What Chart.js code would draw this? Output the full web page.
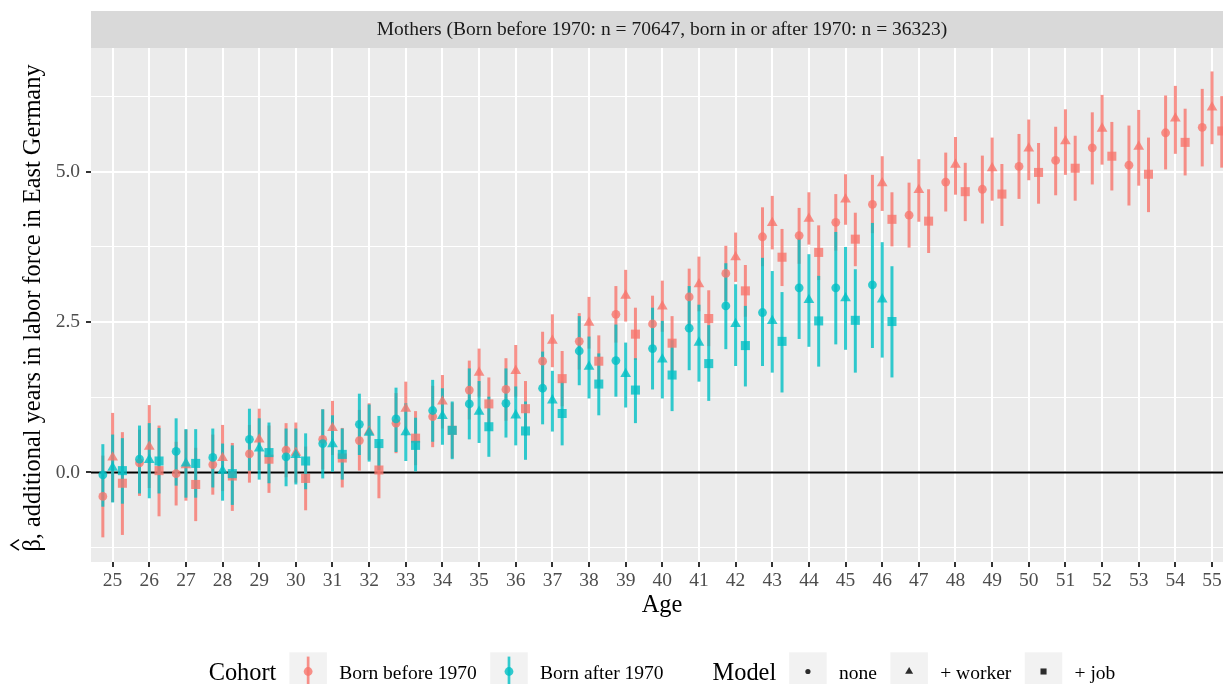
<!DOCTYPE html>
<html>
<head>
<meta charset="utf-8">
<script src="https://cdn.jsdelivr.net/npm/chart.js@4.4.1/dist/chart.umd.min.js"></script>
<style>
  html, body { margin: 0; padding: 0; background: #fff; overflow: hidden; }
  canvas { display: block; }
</style>
</head>
<body>
<canvas id="chart" width="1223" height="684"></canvas>
<script>
// ages on the x axis (the after-1970 cohort stops at 46)
var ages = [25, 26, 27, 28, 29, 30, 31, 32, 33, 34, 35, 36, 37, 38, 39, 40,
            41, 42, 43, 44, 45, 46, 47, 48, 49, 50, 51, 52, 53, 54, 55];
var agesAfter = [25, 26, 27, 28, 29, 30, 31, 32, 33, 34, 35, 36, 37, 38, 39, 40,
                 41, 42, 43, 44, 45, 46];

var yMajorTicks = [0, 2.5, 5];
var yTickLabels = ['0.0', '2.5', '5.0'];
var yMinorTicks = [-1.25, 1.25, 3.75, 6.25];

var cohortLabels = ['Born before 1970', 'Born after 1970'];
var modelLabels = ['none', '+ worker', '+ job'];

// Born before 1970
var beforeNoneEst = [-0.40, 0.16, -0.02, 0.13, 0.31, 0.37, 0.55, 0.53, 0.82, 0.93, 1.37, 1.38, 1.85, 2.18, 2.63, 2.47, 2.92, 3.31, 3.92, 3.94, 4.16, 4.46, 4.28, 4.83, 4.71, 5.09, 5.19, 5.40, 5.11, 5.65, 5.74];
var beforeNoneLo = [-1.08, -0.39, -0.55, -0.37, -0.17, -0.08, 0.05, 0.03, 0.32, 0.42, 0.88, 0.86, 1.36, 1.71, 2.16, 2.00, 2.44, 2.85, 3.43, 3.47, 3.69, 3.98, 3.74, 4.34, 4.14, 4.55, 4.61, 4.79, 4.44, 5.04, 5.09];
var beforeNoneHi = [0.28, 0.71, 0.51, 0.63, 0.79, 0.82, 1.05, 1.04, 1.32, 1.44, 1.86, 1.90, 2.34, 2.65, 3.10, 2.94, 3.39, 3.77, 4.41, 4.40, 4.63, 4.95, 4.82, 5.32, 5.27, 5.63, 5.75, 5.99, 5.77, 6.27, 6.38];

var beforeWorkerEst = [0.25, 0.43, 0.12, 0.24, 0.55, 0.33, 0.74, 0.68, 1.06, 1.18, 1.66, 1.69, 2.19, 2.49, 2.94, 2.76, 3.13, 3.58, 4.15, 4.22, 4.54, 4.81, 4.70, 5.12, 5.06, 5.39, 5.51, 5.72, 5.42, 5.89, 6.07];
var beforeWorkerLo = [-0.49, -0.26, -0.47, -0.31, 0.04, -0.17, 0.29, 0.21, 0.61, 0.73, 1.26, 1.26, 1.75, 2.06, 2.51, 2.34, 2.68, 3.17, 3.71, 3.79, 4.12, 4.35, 4.17, 4.62, 4.52, 4.86, 4.95, 5.12, 4.77, 5.30, 5.46];
var beforeWorkerHi = [0.99, 1.12, 0.71, 0.79, 1.06, 0.83, 1.19, 1.15, 1.51, 1.62, 2.06, 2.12, 2.63, 2.92, 3.37, 3.19, 3.59, 3.99, 4.60, 4.66, 4.96, 5.26, 5.21, 5.58, 5.57, 5.87, 6.04, 6.28, 6.03, 6.43, 6.67];

var beforeJobEst = [-0.18, 0.03, -0.20, -0.06, 0.22, -0.10, 0.24, 0.04, 0.57, 0.70, 1.14, 1.06, 1.56, 1.85, 2.30, 2.15, 2.56, 3.02, 3.58, 3.66, 3.88, 4.21, 4.18, 4.67, 4.63, 4.99, 5.06, 5.26, 4.96, 5.49, 5.68];
var beforeJobLo = [-1.04, -0.73, -0.81, -0.64, -0.34, -0.63, -0.25, -0.43, 0.12, 0.24, 0.70, 0.61, 1.10, 1.42, 1.87, 1.69, 2.10, 2.59, 3.10, 3.20, 3.43, 3.76, 3.65, 4.18, 4.10, 4.47, 4.52, 4.69, 4.33, 4.94, 5.07];
var beforeJobHi = [0.67, 0.78, 0.41, 0.49, 0.78, 0.43, 0.74, 0.51, 1.02, 1.16, 1.58, 1.52, 2.02, 2.28, 2.74, 2.60, 3.03, 3.45, 4.05, 4.11, 4.32, 4.66, 4.71, 5.15, 5.13, 5.48, 5.60, 5.83, 5.57, 6.05, 6.26];

// Born in or after 1970
var afterNoneEst = [-0.04, 0.22, 0.35, 0.25, 0.55, 0.26, 0.48, 0.80, 0.89, 1.03, 1.14, 1.15, 1.40, 2.02, 1.86, 2.06, 2.40, 2.77, 2.66, 3.07, 3.07, 3.12];
var afterNoneLo = [-0.57, -0.35, -0.22, -0.25, 0.03, -0.23, -0.10, 0.29, 0.34, 0.51, 0.55, 0.58, 0.80, 1.45, 1.26, 1.38, 1.70, 2.05, 1.77, 2.22, 2.13, 2.07];
var afterNoneHi = [0.47, 0.78, 0.90, 0.73, 1.06, 0.73, 1.05, 1.31, 1.41, 1.54, 1.73, 1.73, 2.01, 2.60, 2.46, 2.74, 3.10, 3.48, 3.57, 3.89, 4.00, 4.15];

var afterWorkerEst = [0.08, 0.21, 0.15, 0.03, 0.40, 0.29, 0.47, 0.66, 0.67, 0.94, 1.01, 0.95, 1.20, 1.76, 1.64, 1.88, 2.16, 2.47, 2.52, 2.87, 2.90, 2.88];
var afterWorkerLo = [-0.50, -0.43, -0.42, -0.47, -0.12, -0.20, 0.01, 0.18, 0.19, 0.46, 0.49, 0.45, 0.68, 1.23, 1.08, 1.23, 1.51, 1.77, 1.66, 2.09, 2.04, 1.91];
var afterWorkerHi = [0.63, 0.82, 0.72, 0.48, 0.90, 0.73, 0.95, 1.13, 1.15, 1.40, 1.52, 1.43, 1.69, 2.26, 2.16, 2.52, 2.79, 3.13, 3.35, 3.63, 3.75, 3.83];

var afterJobEst = [0.03, 0.19, 0.15, -0.02, 0.33, 0.19, 0.30, 0.48, 0.45, 0.70, 0.76, 0.69, 0.98, 1.47, 1.37, 1.62, 1.81, 2.11, 2.18, 2.52, 2.53, 2.51];
var afterJobLo = [-0.52, -0.35, -0.42, -0.54, -0.18, -0.28, -0.12, 0.04, 0.00, 0.22, 0.26, 0.21, 0.45, 0.95, 0.82, 1.02, 1.19, 1.43, 1.33, 1.76, 1.66, 1.58];
var afterJobHi = [0.57, 0.74, 0.72, 0.45, 0.83, 0.65, 0.73, 0.94, 0.91, 1.18, 1.26, 1.18, 1.51, 1.98, 1.90, 2.20, 2.45, 2.77, 3.00, 3.27, 3.38, 3.43];

var FONT = '"Liberation Serif", "DejaVu Serif", serif';
var SMALL = 19.5, BIG = 24.4;
var RED = 'rgba(248, 118, 109, 0.8)';
var TEAL = 'rgba(0, 191, 196, 0.8)';
var KEY_INK = 'rgba(0, 0, 0, 0.82)';
var dodge = [-0.2667, 0, 0.2667];           // position_dodge offsets per model
var shapes = ['circle', 'triangle', 'rect'];
var radii = [4.4, 6.2, 6.4];
var CENTER_X = 662;                         // panel centre (panel runs past the right edge)

var cohorts = [
    { xs: ages, color: RED, series: [
        [beforeNoneEst, beforeNoneLo, beforeNoneHi],
        [beforeWorkerEst, beforeWorkerLo, beforeWorkerHi],
        [beforeJobEst, beforeJobLo, beforeJobHi]] },
    { xs: agesAfter, color: TEAL, series: [
        [afterNoneEst, afterNoneLo, afterNoneHi],
        [afterWorkerEst, afterWorkerLo, afterWorkerHi],
        [afterJobEst, afterJobLo, afterJobHi]] }
];

var datasets = [];
cohorts.forEach(function (c, ci) {
    c.series.forEach(function (s, mi) {
        var off = dodge[mi];
        // confidence interval as a thin floating bar
        datasets.push({
            type: 'bar',
            data: s[1].map(function (lo, i) { return { x: c.xs[i] + off, y: [lo, s[2][i]] }; }),
            backgroundColor: c.color,
            borderWidth: 0,
            grouped: false,
            maxBarThickness: 3,
            order: 40 - ci * 10
        });
        datasets.push({
            type: 'scatter',
            data: s[0].map(function (v, i) { return { x: c.xs[i] + off, y: v }; }),
            pointStyle: shapes[mi],
            pointRadius: radii[mi],
            pointHoverRadius: radii[mi],
            backgroundColor: c.color,
            borderWidth: 0,
            showLine: false,
            order: 20 - ci * 10
        });
    });
});

function noPadding(s) {
    s.paddingLeft = 0; s.paddingRight = 0; s.paddingTop = 0; s.paddingBottom = 0;
}

var decor = {
    id: 'decor',
    beforeDraw: function (chart) {
        var ctx = chart.ctx, a = chart.chartArea;
        ctx.save();
        ctx.fillStyle = '#FFFFFF';
        ctx.fillRect(0, 0, chart.width, chart.height);
        ctx.fillStyle = '#EBEBEB';
        ctx.fillRect(a.left, a.top, a.right - a.left, a.bottom - a.top);
        ctx.restore();
    },
    beforeDatasetsDraw: function (chart) {
        var ctx = chart.ctx, a = chart.chartArea;
        var y0 = chart.scales.y.getPixelForValue(0);
        ctx.save();
        ctx.strokeStyle = '#000000';
        ctx.lineWidth = 2;
        ctx.beginPath();
        ctx.moveTo(a.left, y0);
        ctx.lineTo(a.right, y0);
        ctx.stroke();
        ctx.restore();
    },
    afterDraw: function (chart) {
        var ctx = chart.ctx, a = chart.chartArea;
        ctx.save();
        // facet strip
        ctx.fillStyle = '#D9D9D9';
        ctx.fillRect(a.left, 11, chart.width - a.left, a.top - 11);
        ctx.fillStyle = '#1A1A1A';
        ctx.font = SMALL + 'px ' + FONT;
        ctx.textAlign = 'center';
        ctx.textBaseline = 'middle';
        ctx.fillText('Mothers (Born before 1970: n = 70647, born in or after 1970: n = 36323)', CENTER_X, 30);

        // axis titles
        ctx.fillStyle = '#000000';
        ctx.font = BIG + 'px ' + FONT;
        ctx.textBaseline = 'alphabetic';
        ctx.fillText('Age', CENTER_X, 612);

        ctx.save();
        ctx.translate(39.5, (a.top + a.bottom) / 2 + 3);
        ctx.rotate(-Math.PI / 2);
        ctx.textAlign = 'left';
        var yTitle = '\u03B2, additional years in labor force in East Germany';
        var tw = ctx.measureText(yTitle).width;
        var bw = ctx.measureText('\u03B2').width;
        var x0 = -tw / 2;
        ctx.fillText(yTitle, x0, 0);
        // hat over beta
        ctx.strokeStyle = '#000000';
        ctx.lineWidth = 1.5;
        ctx.beginPath();
        ctx.moveTo(x0 + 1.5, -20.5);
        ctx.lineTo(x0 + bw / 2 + 0.5, -28.5);
        ctx.lineTo(x0 + bw - 0.5, -20.5);
        ctx.stroke();
        ctx.restore();

        // legend
        var keyW = 37.5, keyTop = 652.3, keyMid = 671.5;
        ctx.font = BIG + 'px ' + FONT;
        var wCohort = ctx.measureText('Cohort').width;
        var wModel = ctx.measureText('Model').width;
        ctx.font = SMALL + 'px ' + FONT;
        var wc = cohortLabels.map(function (t) { return ctx.measureText(t).width; });
        var wm = modelLabels.map(function (t) { return ctx.measureText(t).width; });
        var total = wCohort + 13 + wModel + 13 + 49;
        wc.forEach(function (w) { total += keyW + 12.3 + w; });
        wm.forEach(function (w) { total += keyW + 12.3 + w; });
        total += 13.5 * 3;
        var x = CENTER_X - total / 2;

        ctx.textAlign = 'left';
        ctx.fillStyle = '#000000';
        ctx.font = BIG + 'px ' + FONT;
        ctx.fillText('Cohort', x, 680);
        x += wCohort + 13;
        var colors = [RED, TEAL];
        cohortLabels.forEach(function (t, i) {
            ctx.fillStyle = '#F2F2F2';
            ctx.fillRect(x, keyTop, keyW, keyW);
            var cx = x + keyW / 2;
            ctx.strokeStyle = colors[i];
            ctx.lineWidth = 2.7;
            ctx.beginPath();
            ctx.moveTo(cx, keyTop + 4.3);
            ctx.lineTo(cx, keyTop + keyW - 4);
            ctx.stroke();
            ctx.fillStyle = colors[i];
            Chart.helpers.drawPoint(ctx, { pointStyle: 'circle', radius: 4.4, rotation: 0, borderWidth: 0 }, cx, keyMid);
            x += keyW + 12.3;
            ctx.fillStyle = '#000000';
            ctx.font = SMALL + 'px ' + FONT;
            ctx.fillText(t, x, 679);
            x += wc[i] + (i === 0 ? 13.5 : 49);
        });
        ctx.font = BIG + 'px ' + FONT;
        ctx.fillText('Model', x, 680);
        x += wModel + 13;
        var keyR = [2.6, 4.6, 4.3];
        modelLabels.forEach(function (t, i) {
            ctx.fillStyle = '#F2F2F2';
            ctx.fillRect(x, keyTop, keyW, keyW);
            ctx.fillStyle = KEY_INK;
            Chart.helpers.drawPoint(ctx, { pointStyle: shapes[i], radius: keyR[i], rotation: 0, borderWidth: 0 }, x + keyW / 2, keyMid);
            x += keyW + 12.3;
            ctx.fillStyle = '#000000';
            ctx.font = SMALL + 'px ' + FONT;
            ctx.fillText(t, x, 679);
            x += wm[i] + 13.5;
        });
        ctx.restore();
    }
};

new Chart(document.getElementById('chart').getContext('2d'), {
    type: 'bar',
    data: { datasets: datasets },
    options: {
        responsive: false,
        animation: false,
        devicePixelRatio: 1,
        layout: { autoPadding: false, padding: { top: 48, left: 0, right: 0, bottom: 0 } },
        plugins: { legend: { display: false }, tooltip: { enabled: false } },
        scales: {
            x: {
                type: 'linear',
                min: 24.41,
                max: 55.30,
                offset: false,
                afterBuildTicks: function (s) { s.ticks = ages.map(function (v) { return { value: v }; }); },
                afterFit: function (s) { s.height = 122; noPadding(s); },
                ticks: {
                    autoSkip: false, maxRotation: 0, padding: 2,
                    color: '#4D4D4D', font: { family: FONT, size: SMALL },
                    callback: function (v) { return String(v); }
                },
                grid: { color: '#FFFFFF', lineWidth: 2, offset: false, tickColor: '#333333', tickWidth: 2, tickLength: 5 },
                border: { display: false }
            },
            y: {
                type: 'linear',
                min: -1.49,
                max: 7.06,
                afterBuildTicks: function (s) {
                    s.ticks = yMinorTicks.concat(yMajorTicks).sort(function (p, q) { return p - q; })
                        .map(function (v) { return { value: v }; });
                },
                afterFit: function (s) { s.width = 91; noPadding(s); },
                ticks: {
                    autoSkip: false, padding: 6,
                    color: '#4D4D4D', font: { family: FONT, size: SMALL },
                    callback: function (v) {
                        var k = yMajorTicks.indexOf(v);
                        return k >= 0 ? yTickLabels[k] : '';
                    }
                },
                grid: {
                    color: '#FFFFFF',
                    lineWidth: function (c) { return yMajorTicks.indexOf(c.tick.value) >= 0 ? 2 : 1; },
                    tickColor: function (c) { return yMajorTicks.indexOf(c.tick.value) >= 0 ? '#333333' : 'rgba(0,0,0,0)'; },
                    tickWidth: 2,
                    tickLength: 5
                },
                border: { display: false }
            }
        }
    },
    plugins: [decor]
});
</script>
</body>
</html>
